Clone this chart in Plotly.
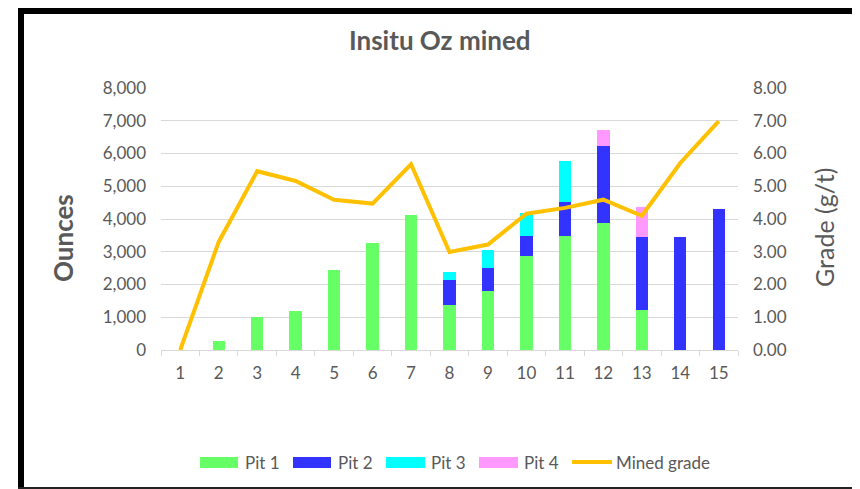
import plotly.graph_objects as go

categories = [str(i) for i in range(1, 16)]
pit1 = [0, 260, 1000, 1180, 2450, 3270, 4120, 1370, 1790, 2860, 3480, 3890, 1220, 0, 0]
pit2 = [0, 0, 0, 0, 0, 0, 0, 755, 714, 623, 1030, 2347, 2225, 3450, 4306]
pit3 = [0, 0, 0, 0, 0, 0, 0, 256, 561, 704, 1255, 0, 0, 0, 0]
pit4 = [0, 0, 0, 0, 0, 0, 0, 0, 0, 0, 0, 469, 908, 0, 0]
mined_grade = [0, 3.30, 5.46, 5.16, 4.59, 4.47, 5.67, 2.99, 3.22, 4.16, 4.34, 4.59, 4.10, 5.71, 6.99]

series = [
    ("Pit 1", pit1, "#66FF66"),
    ("Pit 2", pit2, "#3333FF"),
    ("Pit 3", pit3, "#00FFFF"),
    ("Pit 4", pit4, "#FF99FF"),
]
line_color = "#FFC000"
grid = "#D9D9D9"
txt = "#595959"
FONT = "Lato, 'Open Sans', sans-serif"

W, H = 860, 489
OFF = 8  # page body margin
# plot area in page pixel coordinates
PL, PR, PT, PB = 161, 738, 88, 350
L, R, T, B = PL - OFF, PR - OFF, PT - OFF, PB - OFF


def px(x):
    return (x - PL) / (PR - PL)


def py(y):
    return (PB - y) / (PB - PT)


fig = go.Figure()
for name, vals, col in series:
    fig.add_trace(go.Bar(x=categories, y=vals, name=name, marker=dict(color=col, line=dict(width=0)),
                         showlegend=False))
fig.add_trace(go.Scatter(x=categories, y=mined_grade, name="Mined grade", yaxis="y2", mode="lines",
                         line=dict(color=line_color, width=4), showlegend=False))

shapes = []
annotations = []

# frame (page coordinates)
shapes += [
    dict(type="line", xref="paper", yref="paper", x0=px(21), x1=px(21), y0=py(9), y1=py(500), line=dict(color="black", width=6)),
    dict(type="line", xref="paper", yref="paper", x0=px(18), x1=px(860), y0=py(11), y1=py(11), line=dict(color="black", width=6)),
    dict(type="line", xref="paper", yref="paper", x0=px(856), x1=px(856), y0=py(9), y1=py(500), line=dict(color="black", width=6)),
    dict(type="line", xref="paper", yref="paper", x0=px(18), x1=px(860), y0=py(488), y1=py(488), line=dict(color="#222222", width=2)),
]

# title & axis titles
annotations.append(dict(text="<b>Insitu Oz mined</b>", xref="paper", yref="paper", x=px(440), y=py(40),
                        showarrow=False, font=dict(family=FONT, size=26, color=txt), xanchor="center", yanchor="middle"))
annotations.append(dict(text="<b>Ounces</b>", xref="paper", yref="paper", x=px(63), y=py(238), textangle=-90,
                        showarrow=False, font=dict(family=FONT, size=26, color=txt), xanchor="center", yanchor="middle"))
annotations.append(dict(text="Grade (g/t)", xref="paper", yref="paper", x=px(824), y=py(228), textangle=-90,
                        showarrow=False, font=dict(family=FONT, size=25, color=txt), xanchor="center", yanchor="middle"))

# custom legend
legend_y = 462
swatches = [(200, 238, 243), (293, 331, 336), (386, 425, 429), (479, 518, 522)]
for (name, vals, col), (x0, x1, xt) in zip(series, swatches):
    shapes.append(dict(type="rect", xref="paper", yref="paper", x0=px(x0), x1=px(x1), y0=py(legend_y + 6),
                       y1=py(legend_y - 5), fillcolor=col, line=dict(width=0)))
    annotations.append(dict(text=name, xref="paper", yref="paper", x=px(xt), y=py(legend_y), showarrow=False,
                            xanchor="left", yanchor="middle", font=dict(family=FONT, size=17, color=txt)))
shapes.append(dict(type="line", xref="paper", yref="paper", x0=px(572), x1=px(612), y0=py(legend_y), y1=py(legend_y),
                   line=dict(color=line_color, width=4)))
annotations.append(dict(text="Mined grade", xref="paper", yref="paper", x=px(614), y=py(legend_y), showarrow=False,
                        xanchor="left", yanchor="middle", font=dict(family=FONT, size=17, color=txt)))

fig.update_layout(
    width=W, height=H,
    margin=dict(l=L, r=W - R, t=T, b=H - B, pad=0),
    paper_bgcolor="white", plot_bgcolor="white",
    barmode="stack", bargap=0.68,
    showlegend=False,
    font=dict(family=FONT, color=txt, size=17),
    xaxis=dict(type="category", showline=True, linecolor=grid, linewidth=1, ticks="outside", tickson="boundaries",
               ticklen=5, tickcolor=grid, showgrid=False, tickfont=dict(size=17, color=txt), ticklabelstandoff=8),
    yaxis=dict(range=[0, 8000], dtick=1000, tickformat=",", showgrid=True, gridcolor=grid, gridwidth=1,
               zeroline=False, showline=False, ticks="", tickfont=dict(size=17, color=txt), ticklabelstandoff=14),
    yaxis2=dict(range=[0, 8], dtick=1, tickformat=".2f", overlaying="y", side="right", showgrid=False,
                zeroline=False, showline=False, ticks="", tickfont=dict(size=17, color=txt), ticklabelstandoff=14),
    shapes=shapes, annotations=annotations,
)

fig.write_html("out.html")
